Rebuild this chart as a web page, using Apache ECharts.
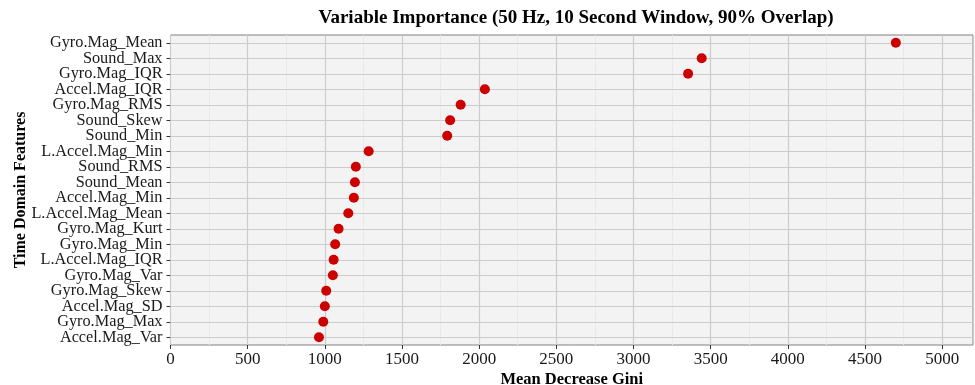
<!DOCTYPE html>
<html>
<head>
<meta charset="utf-8">
<script src="https://cdn.jsdelivr.net/npm/echarts@6/dist/echarts.min.js"></script>
<style>
  html, body { margin: 0; padding: 0; background: #fff; }
  #chart { width: 975px; height: 385px; }
</style>
</head>
<body>
<div id="chart"></div>
<script>
// features, top to bottom
const features = [
  'Gyro.Mag_Mean', 'Sound_Max', 'Gyro.Mag_IQR', 'Accel.Mag_IQR', 'Gyro.Mag_RMS',
  'Sound_Skew', 'Sound_Min', 'L.Accel.Mag_Min', 'Sound_RMS', 'Sound_Mean',
  'Accel.Mag_Min', 'L.Accel.Mag_Mean', 'Gyro.Mag_Kurt', 'Gyro.Mag_Min', 'L.Accel.Mag_IQR',
  'Gyro.Mag_Var', 'Gyro.Mag_Skew', 'Accel.Mag_SD', 'Gyro.Mag_Max', 'Accel.Mag_Var',
];
// mean decrease gini
const giniValues = [
  4700, 3442, 3354, 2037, 1880,
  1812, 1793, 1284, 1201, 1195,
  1188, 1152, 1089, 1067, 1057,
  1052, 1009, 1000, 990, 962,
];

const serif = '"Liberation Serif", "Times New Roman", serif';

const myChart = echarts.init(document.getElementById('chart'), null, { renderer: 'canvas' });

const option = {
  backgroundColor: '#ffffff',
  animation: false,
  title: {
    text: 'Variable Importance (50 Hz, 10 Second Window, 90% Overlap)',
    left: 571,
    top: 4,
    textAlign: 'center',
    textStyle: { fontFamily: serif, fontSize: 19, fontWeight: 'bold', color: '#000' },
  },
  grid: {
    left: 170.5,
    right: 2,
    top: 35,
    bottom: 40,
    outerBoundsMode: 'none',
    containLabel: false,
    show: true,
    backgroundColor: '#f3f3f3',
    borderColor: '#808080',
    borderWidth: 1,
  },
  xAxis: {
    type: 'value',
    min: 0,
    max: 5200,
    interval: 500,
    name: 'Mean Decrease Gini',
    nameLocation: 'middle',
    nameGap: 26,
    nameMoveOverlap: false,
    nameTextStyle: { fontFamily: serif, fontSize: 16.5, fontWeight: 'bold', color: '#000' },
    axisLine: { show: false },
    axisTick: { show: true, length: 4, lineStyle: { color: '#333' } },
    axisLabel: {
      fontFamily: serif, fontSize: 17, color: '#1a1a1a', margin: 6,
      showMaxLabel: false,
      formatter: (v) => String(v),
    },
    splitLine: { show: true, lineStyle: { color: '#cccccc', width: 1.2 } },
    minorTick: { show: false, splitNumber: 2 },
    minorSplitLine: { show: true, lineStyle: { color: '#e9e9e9', width: 1 } },
  },
  yAxis: {
    type: 'category',
    data: features,
    inverse: true,
    name: 'Time Domain Features',
    nameLocation: 'middle',
    nameRotate: 90,
    nameGap: 142,
    nameMoveOverlap: false,
    nameTextStyle: { fontFamily: serif, fontSize: 16, fontWeight: 'bold', color: '#000' },
    axisLine: { show: false },
    axisTick: { show: true, length: 4, alignWithLabel: true, interval: 0, lineStyle: { color: '#333' } },
    axisLabel: { fontFamily: serif, fontSize: 16.3, color: '#1a1a1a', margin: 8, interval: 0, lineHeight: 15 },
    splitLine: { show: false },
  },
  series: [
    {
      type: 'scatter',
      data: giniValues.map((v, i) => [v, features[i]]),
      symbol: 'circle',
      symbolSize: 10,
      itemStyle: { color: '#cc0000', opacity: 1 },
      z: 5,
      markLine: {
        silent: true,
        symbol: ['none', 'none'],
        label: { show: false },
        z: 1,
        lineStyle: { color: '#cccccc', width: 1.2, type: 'solid' },
        data: features.map((f) => ({ yAxis: f })),
      },
    },
  ],
};

myChart.setOption(option);
</script>
</body>
</html>
